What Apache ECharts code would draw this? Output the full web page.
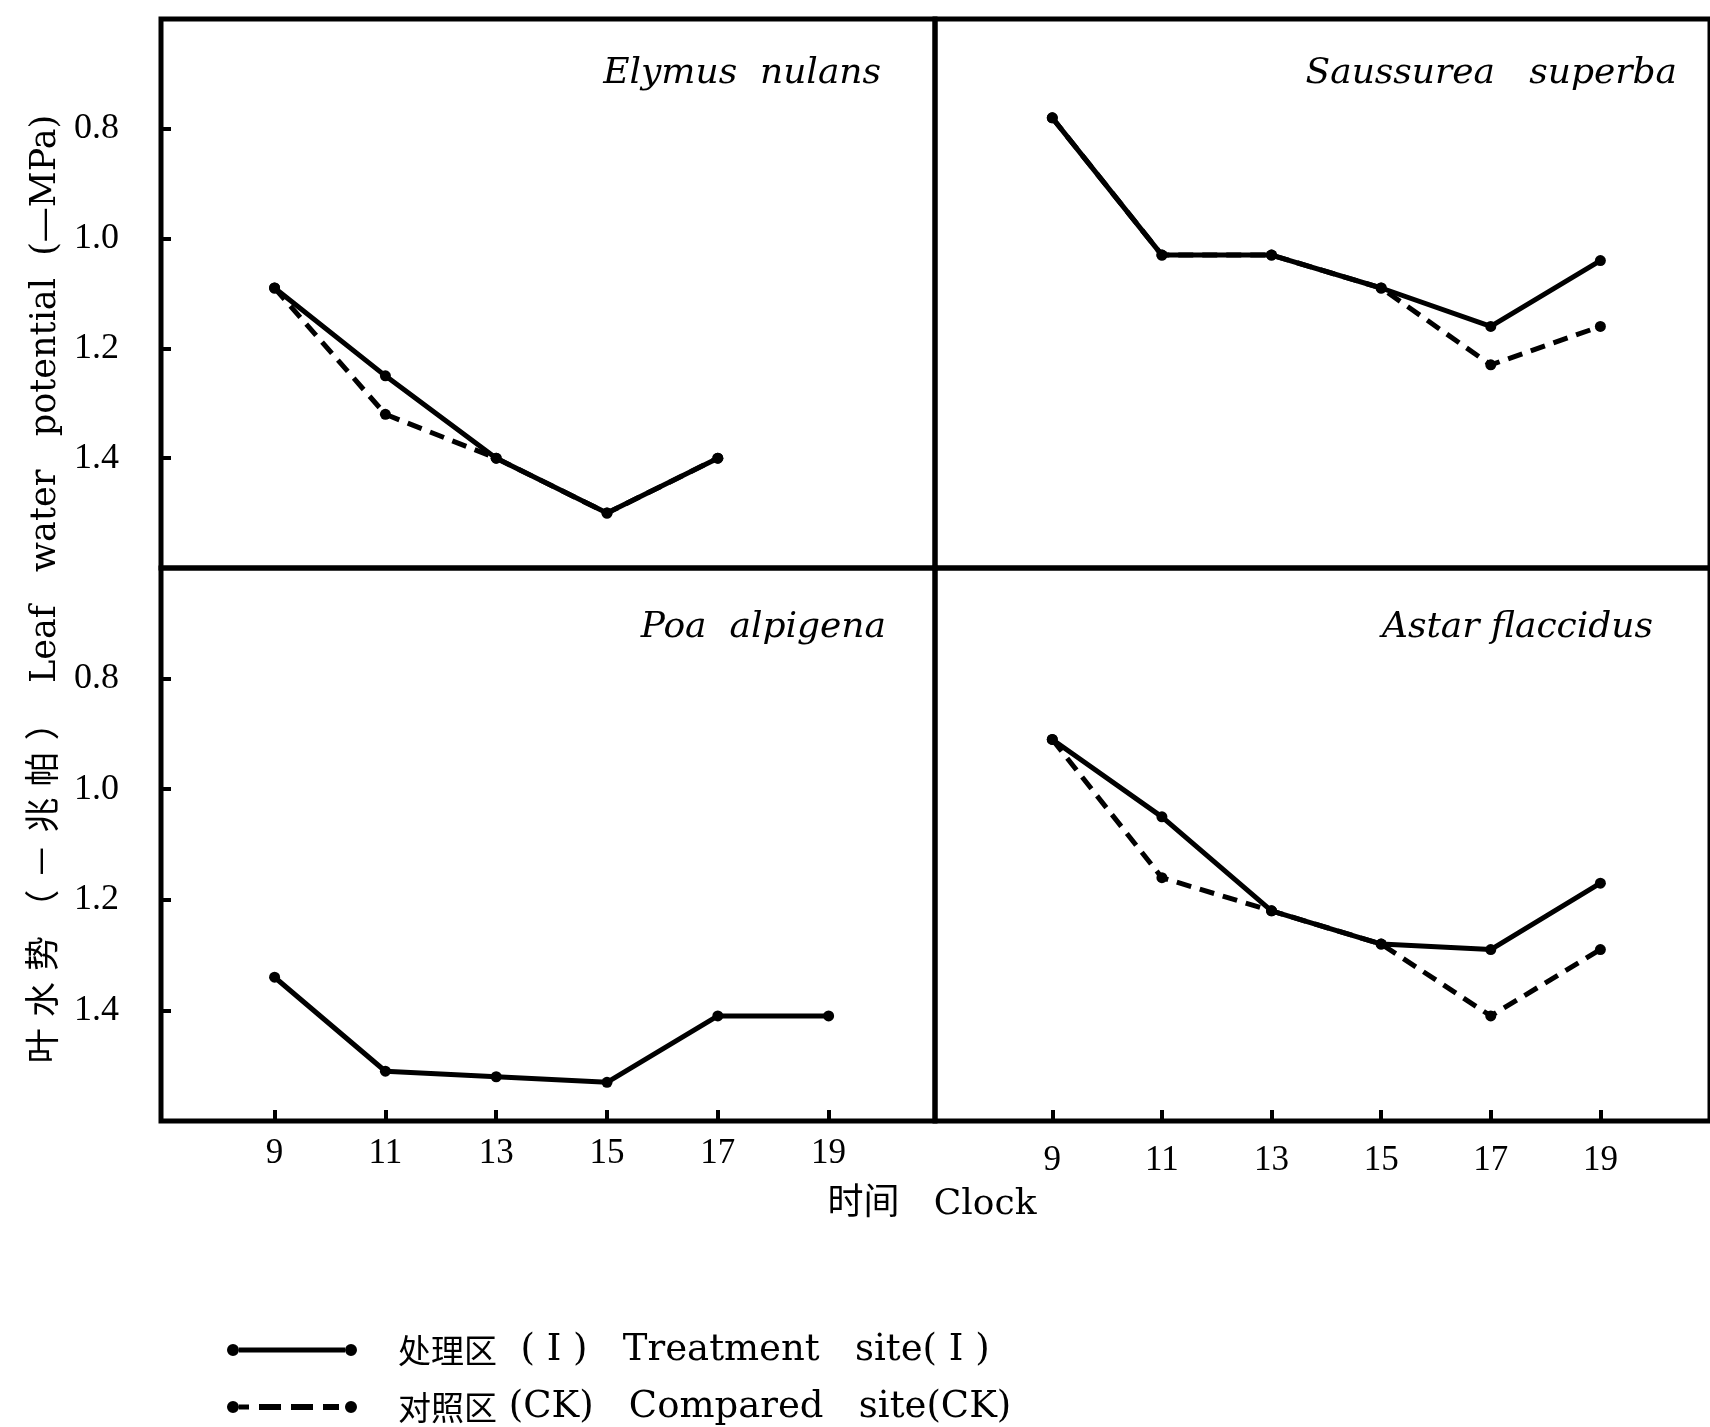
<!DOCTYPE html>
<html><head><meta charset="utf-8">
<script src="https://cdn.jsdelivr.net/npm/echarts@6/dist/echarts.min.js"></script>
<style>html,body{margin:0;padding:0;background:#fff}#c{width:1710px;height:1427px}</style>
</head><body><div id="c"></div>
<script>
// ---- data ----
const hours = [9, 11, 13, 15, 17, 19];
const yTicks = [0.8, 1.0, 1.2, 1.4];
const panelTitles = ['Elymus  nulans', 'Saussurea   superba', 'Poa  alpigena', 'Astar flaccidus'];
const seriesNames = ['处理区  ( I )   Treatment   site( I )', '对照区 (CK)   Compared   site(CK)'];
const elymusTreatment    = [1.09, 1.25, 1.40, 1.50, 1.40, null];
const elymusCompared     = [1.09, 1.32, 1.40, 1.50, 1.40, null];
const saussureaTreatment = [0.78, 1.03, 1.03, 1.09, 1.16, 1.04];
const saussureaCompared  = [0.78, 1.03, 1.03, 1.09, 1.23, 1.16];
const poaTreatment       = [1.34, 1.51, 1.52, 1.53, 1.41, 1.41];
const astarTreatment     = [0.91, 1.05, 1.22, 1.28, 1.29, 1.17];
const astarCompared      = [0.91, 1.16, 1.22, 1.28, 1.41, 1.29];

const pairs = arr => hours.map((h, i) => [h, arr[i]]).filter(p => p[1] !== null);

const SERIF = "'DejaVu Serif', 'Noto Sans CJK SC', serif";
const TICKF = "'Liberation Serif', 'DejaVu Serif', serif";

const grids = [
  {left: 161, top: 19, width: 774, height: 549},
  {left: 935, top: 19, width: 791, height: 549},
  {left: 161, top: 568, width: 774, height: 553},
  {left: 935, top: 568, width: 791, height: 553}
].map(g => Object.assign(g, {show: true, borderColor: '#000', borderWidth: 5, backgroundColor: 'transparent'}));

function xAxisFor(i) {
  const left = (i % 2 === 0);
  const bottom = (i >= 2);
  return {
    type: 'value', gridIndex: i,
    min: left ? 6.95 : 6.86, max: left ? 20.92 : 21.0,
    axisLine: {show: false},
    splitLine: {show: false},
    axisTick: {show: bottom, inside: true, length: 11, customValues: hours,
      lineStyle: {color: '#000', width: 4}},
    axisLabel: {show: bottom, customValues: hours, margin: left ? 15 : 22,
      color: '#000', fontFamily: TICKF, fontSize: 35}
  };
}
function yAxisFor(i) {
  const left = (i % 2 === 0);
  return {
    type: 'value', gridIndex: i, inverse: true, min: 0.6, max: 1.6,
    axisLine: {show: false},
    splitLine: {show: false},
    axisTick: {show: left, inside: true, length: 10, customValues: yTicks,
      lineStyle: {color: '#000', width: 4}},
    axisLabel: {show: left, customValues: yTicks, margin: 42,
      formatter: v => Number(v).toFixed(1),
      color: '#000', fontFamily: TICKF, fontSize: 36}
  };
}

function lineSeries(name, idx, arr, dashed) {
  return {
    type: 'line', name: name, xAxisIndex: idx, yAxisIndex: idx,
    data: pairs(arr),
    symbol: 'circle', symbolSize: 11, showSymbol: true,
    z: dashed ? 2 : 3,
    itemStyle: {color: '#000'},
    lineStyle: {color: '#000', width: 5, type: dashed ? [15, 9] : 'solid'},
    emphasis: {disabled: true}, animation: false
  };
}

const series = [
  lineSeries(seriesNames[1], 0, elymusCompared, true),
  lineSeries(seriesNames[0], 0, elymusTreatment, false),
  lineSeries(seriesNames[1], 1, saussureaCompared, true),
  lineSeries(seriesNames[0], 1, saussureaTreatment, false),
  lineSeries(seriesNames[0], 2, poaTreatment, false),
  lineSeries(seriesNames[1], 3, astarCompared, true),
  lineSeries(seriesNames[0], 3, astarTreatment, false)
];

const titlePos = [
  {right: 829, top: 56}, {right: 33, top: 56},
  {right: 824, top: 610}, {right: 57, top: 610}
];
const titles = panelTitles.map((t, i) => Object.assign({
  text: t, padding: 0,
  textStyle: {fontFamily: "'DejaVu Serif', serif", fontStyle: 'italic', fontWeight: 'normal',
    fontSize: 36, color: '#000'}
}, titlePos[i]));

const solidIcon = 'path://M0,6 a6,6 0 1,0 12,0 a6,6 0 1,0 -12,0 Z M12,3.5 L118,3.5 L118,8.5 L12,8.5 Z M118,6 a6,6 0 1,0 12,0 a6,6 0 1,0 -12,0 Z';
const dashIcon = 'path://M0,6 a6,6 0 1,0 12,0 a6,6 0 1,0 -12,0 Z M12,3.5 L22,3.5 L22,8.5 L12,8.5 Z M32,3 L54,3 L54,9 L32,9 Z M64,3 L86,3 L86,9 L64,9 Z M96,3 L112,3 L112,9 L96,9 Z M118,6 a6,6 0 1,0 12,0 a6,6 0 1,0 -12,0 Z';

function legendFor(i, top, icon) {
  return {
    orient: 'horizontal', left: 227, top: top, padding: 0,
    itemWidth: 130, itemHeight: 12,
    selectedMode: false,
    formatter: name => {
      const k = name.indexOf(' ');
      return '{c|' + name.slice(0, k) + '}{l|' + name.slice(k) + '}';
    },
    textStyle: {fontFamily: SERIF, fontSize: 33, lineHeight: 40, color: '#000', padding: [0, 0, 0, 36],
      rich: {
        c: {fontFamily: "'Noto Sans CJK SC', sans-serif", fontSize: 33, lineHeight: 40, color: '#000',
          verticalAlign: 'middle'},
        l: {fontFamily: "'DejaVu Serif', serif", fontSize: 37, lineHeight: 40, color: '#000',
          verticalAlign: 'middle'}
      }},
    data: [{name: seriesNames[i], icon: icon}]
  };
}

const option = {
  backgroundColor: '#fff',
  animation: false,
  title: titles,
  grid: grids,
  xAxis: [0, 1, 2, 3].map(xAxisFor),
  yAxis: [0, 1, 2, 3].map(yAxisFor),
  legend: [legendFor(0, 1330, solidIcon), legendFor(1, 1387, dashIcon)],
  graphic: [
    {type: 'text', x: 46, y: 589, rotation: Math.PI / 2,
      style: {text: '叶 水 势 （ － 兆 帕 ）  Leaf   water   potential  (—MPa)',
        fontFamily: SERIF, fontSize: 35, fill: '#000', align: 'center', verticalAlign: 'middle'}},
    {type: 'text', x: 932, y: 1205,
      style: {text: '时间   Clock', fontFamily: SERIF, fontSize: 36, fill: '#000',
        align: 'center', verticalAlign: 'middle'}}
  ],
  series: series
};

const chart = echarts.init(document.getElementById('c'), null, {renderer: 'canvas'});
chart.setOption(option);
</script>
</body></html>
